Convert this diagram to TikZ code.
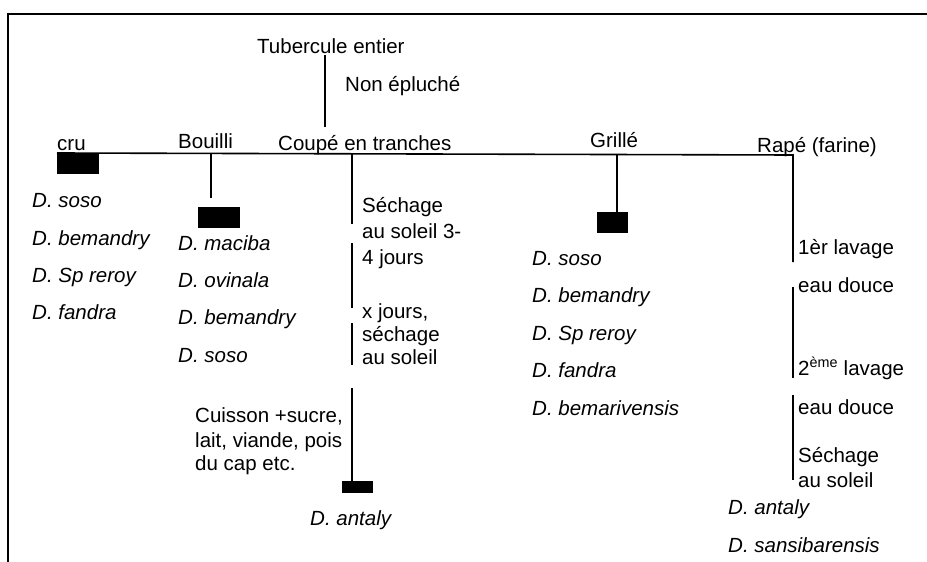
\documentclass[tikz,border=0pt]{standalone}
\usepackage{fontspec}
\setmainfont{Liberation Sans}
\begin{document}
\begin{tikzpicture}[x=1pt,y=-1pt,
  txt/.style={anchor=base west, inner sep=0pt, font=\fontsize{20.5}{24.6}\selectfont},
  sp/.style={anchor=base west, inner sep=0pt, font=\fontsize{20.5}{24.6}\selectfont\itshape},
  blk/.style={fill=black, draw=none, inner sep=0pt, anchor=north west},
  ln/.style={line width=1.1pt},
  mainln/.style={line width=1.6pt},
  frameln/.style={line width=2pt}]
\useasboundingbox (0,0) rectangle (927,562);
% frame
\coordinate (fTR) at (927,14);
\coordinate (fTL) at (8,14);
\coordinate (fBL) at (8,562);
\draw[frameln] (fTR) -- (fTL) -- (fBL);

% top
\node[txt] (tub) at (257,53) {Tubercule entier};
\node[txt] (nonep) at (345,91) {Non épluché};
\coordinate (t1) at (325,55);
\coordinate (t2) at (325,127);
\draw[ln] (t1) -- (t2);

% branch labels
\node[txt] (cru) at (57,150) {cru};
\node[txt] (bou) at (178,148) {Bouilli};
\node[txt] (coup) at (278,150) {Coupé en tranches};
\node[txt] (gri) at (590,147) {Grillé};
\node[txt] (rap) at (757,152) {Rapé (farine)};

% boxes
\node[blk, minimum width=42pt, minimum height=21pt] (bcru) at (57,153) {};
\node[blk, minimum width=42pt, minimum height=21pt] (bbou) at (198,207) {};
\node[blk, minimum width=31pt, minimum height=21pt] (bgri) at (597,212) {};
\node[blk, minimum width=31pt, minimum height=12pt] (bcou) at (342,481) {};

% main horizontal + Rape stem
\coordinate (hR) at (793,155);
\coordinate (r1) at (793,262);
\draw[mainln] (bcru.north west) -- (hR) -- (r1);
\coordinate (r2a) at (793,287);
\coordinate (r2b) at (793,378);
\draw[ln] (r2a) -- (r2b);
\coordinate (r3a) at (793,395);
\coordinate (r3b) at (793,480);
\draw[ln] (r3a) -- (r3b);

% Bouilli stem
\coordinate (b0) at (211,154);
\coordinate (b1) at (211,198);
\draw[ln] (b0) -- (b1);

% Grille stem
\coordinate (g0) at (617,155);
\draw[ln] (g0) -- (bgri.north -| g0);

% Coupe stems
\coordinate (c0) at (352,154);
\coordinate (c1) at (352,224);
\coordinate (c2a) at (352,243);
\coordinate (c2b) at (352,308);
\coordinate (c3a) at (352,323);
\coordinate (c3b) at (352,365);
\coordinate (c4a) at (352,388);
\draw[ln] (c0) -- (c1);
\draw[ln] (c2a) -- (c2b);
\draw[ln] (c3a) -- (c3b);
\draw[ln] (c4a) -- (bcou.north -| c4a);

% cru species
\node[sp] (cr1) at (32,207) {D. soso};
\node[sp] (cr2) at (32,245) {D. bemandry};
\node[sp] (cr3) at (32,282) {D. Sp reroy};
\node[sp] (cr4) at (32,319) {D. fandra};

% bouilli species
\node[sp] (bo1) at (178,250) {D. maciba};
\node[sp] (bo2) at (178,287) {D. ovinala};
\node[sp] (bo3) at (178,324) {D. bemandry};
\node[sp] (bo4) at (178,362) {D. soso};

% coupe texts
\node[txt] (s1) at (362,212) {Séchage};
\node[txt] (s2) at (362,238) {au soleil 3-};
\node[txt] (s3) at (362,264) {4 jours};
\node[txt] (x1) at (362,318) {x jours,};
\node[txt] (x2) at (362,341) {séchage};
\node[txt] (x3) at (362,364) {au soleil};
\node[txt] (k1) at (195,422) {Cuisson +sucre,};
\node[txt] (k2) at (195,447) {lait, viande, pois};
\node[txt] (k3) at (195,470) {du cap etc.};
\node[sp] (ca) at (310,525) {D. antaly};

% grille species
\node[sp] (gr1) at (532,265) {D. soso};
\node[sp] (gr2) at (532,302) {D. bemandry};
\node[sp] (gr3) at (532,340) {D. Sp reroy};
\node[sp] (gr4) at (532,377) {D. fandra};
\node[sp] (gr5) at (532,415) {D. bemarivensis};

% rape texts
\node[txt] (l1) at (798,254) {1èr lavage};
\node[txt] (l2) at (798,292) {eau douce};
\node[txt] (l3) at (798,375) {2\textsuperscript{ème} lavage};
\node[txt] (l4) at (798,414) {eau douce};
\node[txt] (l5) at (798,462) {Séchage};
\node[txt] (l6) at (798,487) {au soleil};
\node[sp] (ra1) at (728,514) {D. antaly};
\node[sp] (ra2) at (728,552) {D. sansibarensis};
\end{tikzpicture}
\end{document}
